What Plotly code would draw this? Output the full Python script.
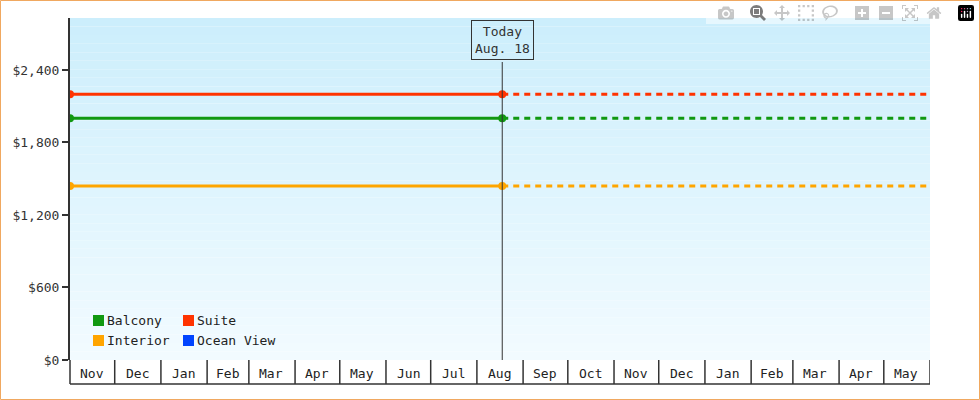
import plotly.graph_objects as go
from datetime import date, timedelta

series_names = ["Balcony", "Suite", "Interior", "Ocean View"]
series_colors = ["#119911", "#ff3300", "#ffa500", "#0044ff"]
series_prices = [2000, 2200, 1440, None]
start_date = "2021-11-01"
today_date = "2022-08-18"
end_date = "2023-06-01"
month_labels = ["Nov","Dec","Jan","Feb","Mar","Apr","May","Jun","Jul","Aug","Sep","Oct",
                "Nov","Dec","Jan","Feb","Mar","Apr","May"]
y_ticks = [0, 600, 1200, 1800, 2400]
y_max = 2830

FONT = "DejaVu Sans Mono"
fig = go.Figure()
L, R, T, B = 70, 50, 18, 40
W, H = 980, 400
pw, ph = W - L - R, H - T - B
px = lambda v: v / pw
py = lambda v: v / ph

shapes = []
n = 40
c0 = (0xcc, 0xee, 0xfc); c1 = (0xf2, 0xfb, 0xff)
for i in range(n):
    t = i / (n - 1)
    c = tuple(round(c0[k] + (c1[k] - c0[k]) * t) for k in range(3))
    shapes.append(dict(type="rect", xref="paper", yref="paper", x0=0, x1=1,
                       y0=1 - (i + 1) / n, y1=1 - i / n, line_width=0,
                       fillcolor="rgb(%d,%d,%d)" % c, layer="below"))

for name, col, p in zip(series_names, series_colors, series_prices):
    if p is None:
        fig.add_trace(go.Scatter(x=[], y=[], name=name, showlegend=False))
        continue
    fig.add_trace(go.Scatter(x=[start_date, today_date], y=[p, p], mode="lines+markers",
                             line=dict(color=col, width=3), marker=dict(size=8, color=col),
                             showlegend=False, hoverinfo="skip"))
    fig.add_trace(go.Scatter(x=[today_date, end_date], y=[p, p], mode="lines",
                             line=dict(color=col, width=3, dash="6px,5px"),
                             showlegend=False, hoverinfo="skip"))

shapes.append(dict(type="line", xref="x", yref="paper", x0=today_date, x1=today_date,
                   y0=0, y1=1 - py(44), line=dict(color="#333", width=1)))
annotations = [dict(x=today_date, y=1 - py(2), xref="x", yref="paper", yanchor="top",
                    text="Today<br>Aug. 18", showarrow=False, bordercolor="#333",
                    borderwidth=1, borderpad=3, bgcolor="rgba(0,0,0,0)",
                    font=dict(family=FONT, size=13, color="#333"))]

d = date(2021, 11, 1)
bounds = []
for m in range(len(month_labels) + 1):
    bounds.append(d)
    d = (d.replace(day=28) + timedelta(days=4)).replace(day=1)
for i, lab in enumerate(month_labels):
    a, b = bounds[i], bounds[i + 1]
    mid = a + (b - a) / 2
    shapes.append(dict(type="line", xref="x", yref="paper", x0=b.isoformat(), x1=b.isoformat(),
                       y0=0, y1=-py(24), line=dict(color="#333", width=1.5)))
    annotations.append(dict(x=mid.isoformat(), y=-py(13), xref="x", yref="paper",
                            text=lab, showarrow=False, yanchor="middle",
                            font=dict(family=FONT, size=13, color="#222")))
shapes.append(dict(type="line", xref="paper", yref="paper", x0=0, x1=1, y0=-py(24), y1=-py(24),
                   line=dict(color="#333", width=1.5)))
shapes.append(dict(type="line", xref="paper", yref="paper", x0=0, x1=0, y0=0, y1=-py(24),
                   line=dict(color="#333", width=1.5)))

leg = [(0, 0), (1, 0), (0, 1), (1, 1)]
for (cx, ry), name, col in zip(leg, series_names, series_colors):
    x0 = 23 + cx * 90
    y0 = 40 - ry * 20
    shapes.append(dict(type="rect", xref="paper", yref="paper", x0=px(x0), x1=px(x0 + 11),
                       y0=py(y0 - 6), y1=py(y0 + 5), fillcolor=col, line_width=0))
    annotations.append(dict(x=px(x0 + 12), y=py(y0), xref="paper", yref="paper", text=name,
                            showarrow=False, xanchor="left", yanchor="middle",
                            font=dict(family=FONT, size=13, color="#222")))

shapes.append(dict(type="rect", xref="paper", yref="paper", x0=-px(L - 0.5), x1=1 + px(R - 0.5),
                   y0=-py(B - 0.5), y1=1 + py(T - 0.5), line=dict(color="#f0a860", width=1)))

fig.update_layout(
    width=W, height=H, margin=dict(l=L, r=R, t=T, b=B),
    paper_bgcolor="white", plot_bgcolor="rgba(0,0,0,0)",
    shapes=shapes, annotations=annotations, showlegend=False,
    xaxis=dict(type="date", range=[start_date, end_date], showticklabels=False,
               showgrid=False, zeroline=False, fixedrange=True),
    yaxis=dict(range=[0, y_max], tickvals=y_ticks,
               ticktext=["$" + format(v, ",") for v in y_ticks],
               showgrid=False, zeroline=False, showline=True, linecolor="#333", linewidth=2,
               ticks="outside", ticklen=6, tickcolor="#333", tickwidth=2,
               tickfont=dict(family=FONT, size=13, color="#333")),
)
fig.write_html("out.html", post_script="document.body.style.margin='0';document.body.style.overflow='hidden';")
